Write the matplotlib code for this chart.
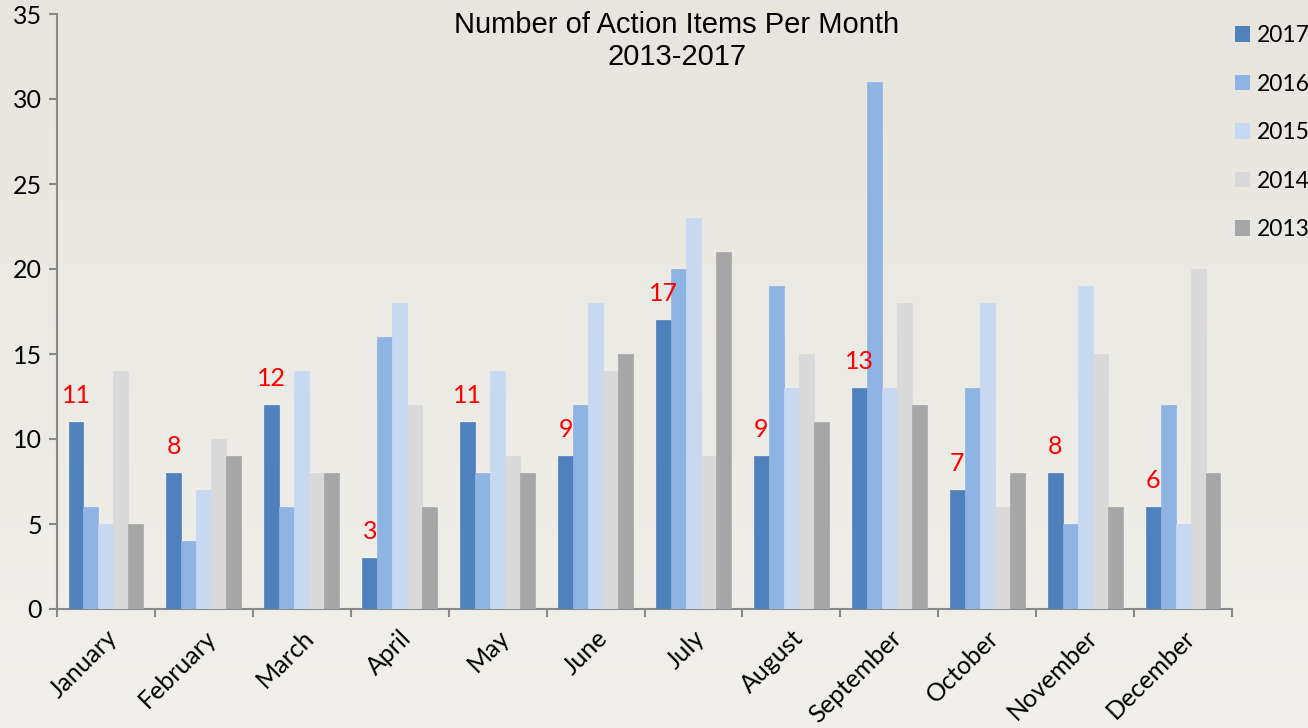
import numpy as np
import matplotlib
matplotlib.use("Agg")
import matplotlib.pyplot as plt
from matplotlib.patches import Patch

months = ["January", "February", "March", "April", "May", "June", "July",
          "August", "September", "October", "November", "December"]
years = ["2017", "2016", "2015", "2014", "2013"]
v2017 = [11, 8, 12, 3, 11, 9, 17, 9, 13, 7, 8, 6]
v2016 = [6, 4, 6, 16, 8, 12, 20, 19, 31, 13, 5, 12]
v2015 = [5, 7, 14, 18, 14, 18, 23, 13, 13, 18, 19, 5]
v2014 = [14, 10, 8, 12, 9, 14, 9, 15, 18, 6, 15, 20]
v2013 = [5, 9, 8, 6, 8, 15, 21, 11, 12, 8, 6, 8]
series = [v2017, v2016, v2015, v2014, v2013]
colors = ["#4F81BD", "#8EB4E3", "#C6D9F1", "#D9D9D9", "#A6A6A6"]
title = "Number of Action Items Per Month\n2013-2017"

plt.rcParams['font.family'] = ['Lato', 'DejaVu Sans']

W, H = 1308, 728
fig = plt.figure(figsize=(W / 100, H / 100), dpi=100)

# background gradient
bg = fig.add_axes([0, 0, 1, 1], zorder=-10)
top = np.array([232, 229, 222]) / 255
bot = np.array([241, 240, 236]) / 255
t = np.linspace(0, 1, 256)[:, None]
grad = top[None, :] * (1 - t) + bot[None, :] * t
bg.imshow(grad[:, None, :], aspect='auto', extent=[0, 1, 0, 1])
bg.axis('off')

x0, x1, y0, y1 = 57, 1232, 14, 609
ax = fig.add_axes([x0 / W, 1 - y1 / H, (x1 - x0) / W, (y1 - y0) / H])
ax.patch.set_alpha(0)

n = len(months)
x = np.arange(n)
bw = 0.153
for i, (vals, c, yr) in enumerate(zip(series, colors, years)):
    offs = (i - 2) * bw
    ax.bar(x + offs, vals, width=bw, color=c, edgecolor=c, linewidth=0.5, label=yr, zorder=3)

for xi, v in zip(x, v2017):
    ax.annotate(str(v), (xi - 2 * bw, v), xytext=(0, 14), textcoords='offset points',
                ha='center', va='baseline', color='#FF0000', fontsize=18, zorder=4)

ax.set_xlim(-0.5, n - 0.5)
ax.set_ylim(0, 35)
ax.set_yticks(range(0, 36, 5))
ax.set_xticks(np.arange(-0.5, n, 1.0))
ax.set_xticklabels([])
ax.set_xticks(x, minor=True)
ax.set_xticklabels(months, minor=True, rotation=45, ha='right', va='top',
                   rotation_mode='anchor', fontsize=18)
ax.tick_params(axis='x', which='minor', length=0, pad=12)
ax.tick_params(axis='x', which='major', length=6, width=1.5, color='#898989', direction='out')
ax.tick_params(axis='y', length=6, width=1.5, color='#898989', labelsize=18, pad=5)
for s in ['top', 'right']:
    ax.spines[s].set_visible(False)
for s in ['left', 'bottom']:
    ax.spines[s].set_color('#898989')
    ax.spines[s].set_linewidth(1.5)

fig.text(677 / W, 1 - 41 / H, title, ha='center', va='center',
         family=['Liberation Sans', 'DejaVu Sans'], fontsize=21, linespacing=1.2)

handles = [Patch(facecolor=c, edgecolor='none') for c in colors]
fig.legend(handles, years, loc='upper left', bbox_to_anchor=(1226 / W, 1 - 16 / H),
           frameon=False, fontsize=16.5, handlelength=0.65, handleheight=0.65,
           handletextpad=0.3, labelspacing=1.2, borderaxespad=0)

fig.savefig("out.png", dpi=100)
